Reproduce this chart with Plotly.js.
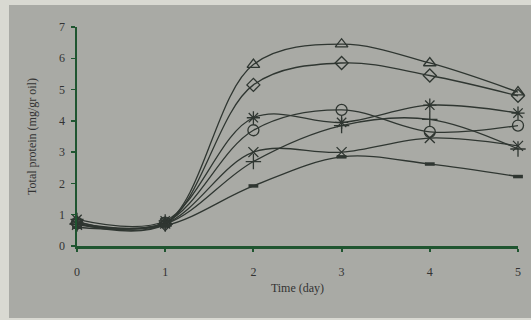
<!DOCTYPE html>
<html>
<head>
<meta charset="utf-8">
<script src="https://cdn.plot.ly/plotly-3.0.1.min.js"></script>
<style>
html,body{margin:0;padding:0;width:531px;height:320px;background:#d9d9d2;overflow:hidden;}
#chart{position:absolute;left:9px;top:5px;width:522px;height:313px;}
</style>
</head>
<body>
<div id="chart"></div>
<script>
var days = [0, 1, 2, 3, 4, 5];
var triangleSeries = [0.78, 0.72, 5.8, 6.45, 5.85, 4.92];
var diamondSeries  = [0.72, 0.70, 5.15, 5.85, 5.45, 4.8];
var asteriskSeries = [0.85, 0.80, 4.1, 3.95, 4.5, 4.25];
var circleSeries   = [0.75, 0.75, 3.7, 4.35, 3.65, 3.85];
var plusSeries     = [0.70, 0.70, 2.7, 3.85, 4.05, 3.1];
var xSeries        = [0.68, 0.72, 3.0, 3.0, 3.45, 3.2];
var dashSeries     = [0.60, 0.65, 1.92, 2.85, 2.62, 2.22];
var xTicks = [0, 1, 2, 3, 4, 5];
var yTicks = [0, 1, 2, 3, 4, 5, 6, 7];

var lineColor = '#2f3631';
var axisGreen = '#1f5530';

function tr(y, symbol, size, mlw) {
  return {
    x: days, y: y, type: 'scatter', mode: 'lines+markers',
    line: {color: lineColor, width: 1.3, shape: 'spline', smoothing: 1},
    marker: {symbol: symbol, size: size, color: lineColor,
             line: {color: lineColor, width: mlw}},
    cliponaxis: false, showlegend: false, hoverinfo: 'skip'
  };
}

var data = [
  tr(triangleSeries, 'triangle-up-open', 11, 1.3),
  tr(diamondSeries, 'diamond-open', 10, 1.3),
  tr(asteriskSeries, 'asterisk-open', 11, 1.3),
  tr(circleSeries, 'circle-open', 11, 1.3),
  tr(plusSeries, 'cross-thin-open', 11, 1.3),
  tr(xSeries, 'x-thin-open', 10, 1.3),
  tr(dashSeries, 'line-ew-open', 7, 3.5)
];

var txt = {family: 'Liberation Serif, serif', size: 12, color: '#333'};

var layout = {
  width: 522, height: 313,
  margin: {l: 68, r: 13, t: 22, b: 72},
  paper_bgcolor: '#a9aaa5',
  plot_bgcolor: 'rgba(0,0,0,0)',
  font: txt,
  xaxis: {
    range: [0, 5], tickvals: xTicks, ticktext: xTicks.map(String),
    showgrid: false, zeroline: false, showline: true,
    linecolor: axisGreen, linewidth: 2.5,
    ticks: 'outside', ticklen: 3, tickwidth: 2, tickcolor: axisGreen,
    ticklabelstandoff: 10,
    tickfont: txt,
    title: {text: 'Time (day)', standoff: 6, font: txt},
    automargin: false
  },
  yaxis: {
    range: [0, 7], tickvals: yTicks, ticktext: yTicks.map(String),
    showgrid: false, zeroline: false, showline: true,
    linecolor: axisGreen, linewidth: 2.5,
    ticks: 'outside', ticklen: 4, tickwidth: 1.5, tickcolor: axisGreen,
    ticklabelstandoff: 3,
    tickfont: txt,
    title: {text: 'Total protein (mg/gr oil)', standoff: 20, font: txt},
    automargin: false
  }
};

Plotly.newPlot('chart', data, layout, {staticPlot: true, displayModeBar: false});
</script>
</body>
</html>
